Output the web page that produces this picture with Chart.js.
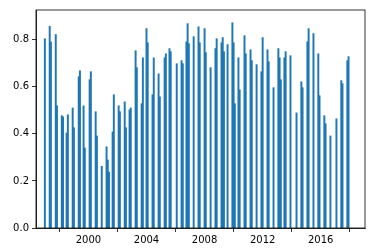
<!DOCTYPE html>
<html>
<head>
<meta charset="utf-8">
<script src="https://cdn.jsdelivr.net/npm/chart.js@4.4.1/dist/chart.umd.min.js"></script>
<style>
  html, body { margin: 0; padding: 0; background: #fff; }
  #wrap { width: 375px; height: 252px; position: relative; }
</style>
</head>
<body>
<div id="wrap"><canvas id="c" width="375" height="252"></canvas></div>
<script>
// Observation months (YYYY-MM)
const dates = [
  '1997-01','1997-05','1997-06','1997-10','1997-11',
  '1998-03','1998-04','1998-07','1998-08','1998-12',
  '1999-01','1999-05','1999-06','1999-09','1999-10',
  '2000-02','2000-03','2000-07','2000-08','2000-12',
  '2001-04','2001-05','2001-06','2001-09','2001-10',
  '2002-02','2002-03','2002-07','2002-08','2002-11','2002-12',
  '2003-04','2003-05','2003-09','2003-10',
  '2004-01','2004-02','2004-06','2004-07','2004-11','2004-12',
  '2005-04','2005-05','2005-08','2005-09',
  '2006-02','2006-06','2006-07','2006-10','2006-11','2006-12',
  '2007-04','2007-08','2007-09',
  '2008-01','2008-02','2008-06','2008-10','2008-11',
  '2009-03','2009-04','2009-05','2009-08','2009-12',
  '2010-01','2010-02','2010-05','2010-06','2010-10','2010-11',
  '2011-03','2011-04','2011-08','2011-12',
  '2012-01','2012-05','2012-06','2012-10',
  '2013-02','2013-03','2013-04','2013-07','2013-08','2013-12',
  '2014-05','2014-09','2014-10',
  '2015-02','2015-03','2015-07','2015-11','2015-12',
  '2016-04','2016-05','2016-09',
  '2017-02','2017-06','2017-07','2017-11','2017-12'
];
// Values
const values = [
  0.804,0.857,0.790,0.822,0.519,
  0.477,0.472,0.404,0.481,0.510,
  0.426,0.643,0.668,0.519,0.340,
  0.630,0.664,0.494,0.391,0.262,
  0.345,0.289,0.238,0.408,0.566,
  0.519,0.494,0.536,0.426,0.502,0.510,
  0.753,0.681,0.528,0.723,
  0.847,0.787,0.566,0.723,0.655,0.557,
  0.723,0.740,0.762,0.749,
  0.698,0.711,0.698,0.791,0.868,0.783,
  0.813,0.855,0.787,
  0.847,0.745,0.681,0.762,0.804,
  0.787,0.809,0.749,0.779,0.872,
  0.787,0.528,0.723,0.587,0.817,0.740,
  0.757,0.711,0.694,0.664,
  0.809,0.757,0.706,0.596,
  0.762,0.723,0.630,0.723,0.749,0.732,
  0.489,0.621,0.596,
  0.791,0.847,0.826,0.740,0.562,
  0.477,0.443,0.391,
  0.464,0.626,0.613,0.711,0.728
];
// Tick labels
const xTicks = [2000, 2004, 2008, 2012, 2016];
const yTicks = [0.0, 0.2, 0.4, 0.6, 0.8];

function toYear(d) {
  const [y, m] = d.split('-').map(Number);
  return y + (m - 1) / 12;
}
const points = dates.map((d, i) => ({ x: toYear(d), y: values[i] }));

const framePlugin = {
  id: 'frame',
  afterDraw(chart) {
    const { ctx, chartArea: a } = chart;
    ctx.save();
    ctx.strokeStyle = '#000';
    ctx.lineWidth = 0.8;
    ctx.strokeRect(a.left, a.top, a.right - a.left, a.bottom - a.top);
    ctx.restore();
  }
};

const font = { family: 'DejaVu Sans', size: 10 };

new Chart(document.getElementById('c'), {
  type: 'bar',
  data: {
    datasets: [{
      data: points,
      backgroundColor: '#1f77b4',
      borderWidth: 0,
      barThickness: 1.3
    }]
  },
  options: {
    responsive: false,
    animation: false,
    devicePixelRatio: 1,
    layout: { padding: { top: 10, right: 10, left: 0, bottom: 0 } },
    plugins: { legend: { display: false }, tooltip: { enabled: false } },
    scales: {
      x: {
        type: 'linear',
        min: 1996.39,
        max: 2019.05,
        offset: false,
        afterBuildTicks: s => { s.ticks = xTicks.map(v => ({ value: v })); },
        afterFit: s => { s.height = 24; },
        ticks: { font, color: '#000', padding: 2, maxRotation: 0, autoSkip: false,
                 callback: v => String(v) },
        grid: { drawOnChartArea: false, drawTicks: true, tickLength: 4, color: '#000', lineWidth: 0.8 },
        border: { display: true, color: '#000', width: 0.8 }
      },
      y: {
        min: 0,
        max: 0.926,
        afterBuildTicks: s => { s.ticks = yTicks.map(v => ({ value: v })); },
        afterFit: s => { s.width = 36; },
        ticks: { font, color: '#000', padding: 3, autoSkip: false,
                 callback: v => Number(v).toFixed(1) },
        grid: { drawOnChartArea: false, drawTicks: true, tickLength: 4, color: '#000', lineWidth: 0.8 },
        border: { display: true, color: '#000', width: 0.8 }
      }
    }
  },
  plugins: [framePlugin]
});
</script>
</body>
</html>
